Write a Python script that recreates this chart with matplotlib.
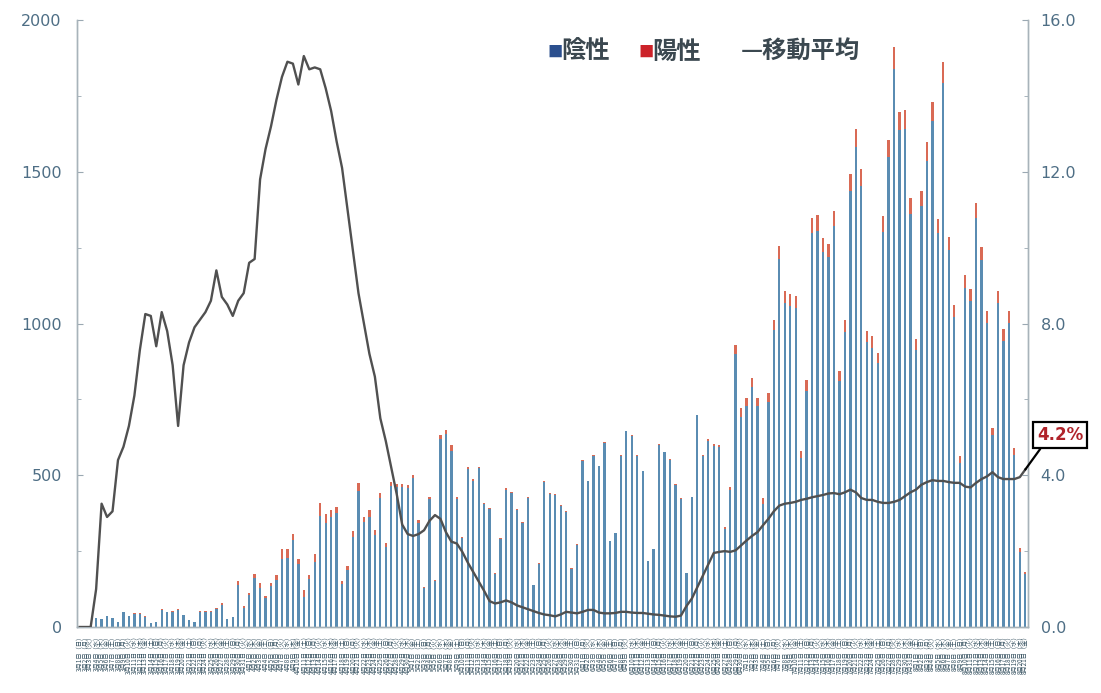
import numpy as np
import pandas as pd
import matplotlib
matplotlib.use("Agg")
import matplotlib.pyplot as plt
from matplotlib.ticker import MultipleLocator, FormatStrFormatter

plt.rcParams['font.family'] = ['DejaVu Sans', 'Noto Sans CJK JP']

# ---------------- data ----------------
dates = pd.date_range('2020-03-01', periods=174)
weekdays = ['月', '火', '水', '木', '金', '土', '日']
date_labels = [f"{d.month}月{d.day}日（{weekdays[d.weekday()]}）" for d in dates]

negative = [
    0, 0, 0,
    29, 27, 35, 29, 15, 48, 36, 43, 43, 34, 12, 17, 55, 48, 50, 55, 38, 22, 17, 51, 51, 51, 58, 73, 26, 32, 140, 63, 104, 163,
    128, 95, 134, 156, 225, 227, 286, 209, 98, 159, 215, 365, 342, 363, 374, 142, 187, 295, 449, 346, 364, 303, 425, 265, 464, 460, 460,
    458, 490, 344, 129, 421,
    152, 618, 637, 580, 421, 293, 522, 481, 523, 406, 389, 175, 291, 453, 440, 385, 344, 426, 137, 208, 478, 437, 436, 400, 380, 192, 271, 548, 480, 565, 529, 606,
    282, 310, 565, 645, 630, 565, 513, 216, 256, 601, 576, 550, 469, 422, 178, 427, 697, 564, 613, 597, 592, 324, 450, 899, 692, 728, 790, 728,
    405, 742, 977, 1212, 1068, 1058, 1052, 556, 779, 1297, 1304, 1236, 1218, 1321, 809, 972, 1436, 1581, 1454, 938, 920, 869, 1303, 1550, 1840,
    1636, 1641, 1362, 913, 1386, 1537, 1667, 1297, 1793, 1241, 1023, 542, 1118, 1074, 1346, 1208, 1001, 632, 1067, 943, 1001, 566, 248, 173,
]

positive = [
    0, 0, 0,
    1, 1, 2, 1, 1, 2, 1, 2, 2, 1, 0, 1, 3, 2, 3, 3, 2, 1, 1, 3, 3, 3, 4, 5, 2, 2, 10, 5, 8, 12,
    18, 8, 12, 14, 32, 30, 20, 15, 25, 12, 25, 45, 30, 22, 20, 10, 14, 20, 25, 18, 20, 15, 18, 12, 14, 12, 10,
    10, 10, 8, 4, 8,
    3, 14, 12, 20, 8, 5, 6, 5, 5, 4, 4, 2, 3, 4, 4, 3, 3, 3, 1, 2, 3, 3, 2, 2, 2, 1, 1, 2, 2, 2, 2, 2,
    1, 1, 2, 2, 2, 2, 2, 1, 1, 2, 2, 2, 2, 2, 1, 2, 3, 3, 5, 6, 8, 6, 12, 30, 28, 25, 30, 25,
    20, 30, 35, 45, 40, 38, 38, 25, 35, 50, 55, 45, 45, 50, 35, 40, 55, 60, 55, 38, 38, 35, 50, 55, 70,
    60, 62, 50, 35, 52, 60, 62, 48, 68, 45, 38, 22, 42, 40, 52, 45, 40, 25, 40, 38, 40, 25, 12, 8,
]

moving_avg = [
    0.0, 0.0, 0.0, 1.0, 3.25, 2.9, 3.05, 4.4, 4.75, 5.3,
    6.1, 7.3, 8.25, 8.2, 7.4, 8.3, 7.8, 6.9, 5.3, 6.9,
    7.5, 7.9, 8.1, 8.3, 8.6, 9.4, 8.7, 8.5, 8.2, 8.6,
    8.8, 9.6, 9.7, 11.8, 12.6, 13.2, 13.9, 14.5, 14.9, 14.85,
    14.3, 15.05, 14.7, 14.75, 14.7, 14.2, 13.6, 12.8, 12.1, 11.0,
    9.9, 8.8, 8.0, 7.2, 6.6, 5.5, 4.9, 4.2, 3.5, 2.7,
    2.45, 2.4, 2.45, 2.55, 2.8, 2.95, 2.85, 2.5, 2.25, 2.2,
    1.98, 1.7, 1.45, 1.2, 0.95, 0.68, 0.62, 0.65, 0.7, 0.65,
    0.57, 0.52, 0.47, 0.42, 0.37, 0.33, 0.31, 0.28, 0.33, 0.4,
    0.38, 0.36, 0.4, 0.45, 0.45, 0.38, 0.36, 0.36, 0.37, 0.4,
    0.4, 0.38, 0.37, 0.37, 0.35, 0.33, 0.32, 0.3, 0.28, 0.27,
    0.3, 0.55, 0.75, 1.05, 1.35, 1.65, 1.95, 1.98, 2.0, 1.98,
    2.02, 2.15, 2.28, 2.4, 2.5, 2.68, 2.85, 3.05, 3.2, 3.25,
    3.27, 3.3, 3.35, 3.38, 3.42, 3.45, 3.48, 3.52, 3.53, 3.5,
    3.55, 3.62, 3.55, 3.4, 3.35, 3.35, 3.3, 3.27, 3.27, 3.3,
    3.35, 3.45, 3.55, 3.62, 3.75, 3.82, 3.87, 3.85, 3.85, 3.82,
    3.8, 3.8, 3.7, 3.68, 3.8, 3.9, 3.97, 4.08, 3.95, 3.9,
    3.9, 3.9, 3.95, 4.15,
]

last_label = "4.2%"

# ---------------- figure ----------------
W, H = 1101, 693
fig = plt.figure(figsize=(W / 100, H / 100), dpi=100)
fig.patch.set_facecolor('white')
ax = fig.add_axes([77 / W, (H - 627) / H, (1028 - 77) / W, (627 - 20) / H])
ax2 = ax.twinx()

x = np.arange(len(negative))
neg_c = '#5a8cb2'
pos_c = '#d96a55'
ax.bar(x, negative, width=0.42, color=neg_c, linewidth=0, zorder=2)
ax.bar(x, positive, bottom=negative, width=0.42, color=pos_c, linewidth=0, zorder=2)

ax2.plot(x, moving_avg, color='#505050', lw=1.7, zorder=5)

ax.set_xlim(-0.5, len(negative) - 0.5)
ax.set_ylim(0, 2000)
ax2.set_ylim(0, 16)

tick_col = '#4e6e85'
ax.yaxis.set_major_locator(MultipleLocator(500))
ax.yaxis.set_minor_locator(MultipleLocator(250))
ax2.yaxis.set_major_locator(MultipleLocator(4))
ax2.yaxis.set_minor_locator(MultipleLocator(2))
ax2.yaxis.set_major_formatter(FormatStrFormatter('%.1f'))
ax.tick_params(axis='y', which='major', direction='in', length=4, color='#9aa8b2',
               labelsize=11.5, labelcolor=tick_col, pad=11)
ax2.tick_params(axis='y', which='major', direction='in', length=4, color='#9aa8b2',
                labelsize=11.5, labelcolor=tick_col, pad=9)
for a in (ax, ax2):
    a.tick_params(axis='y', which='minor', direction='in', length=3, color='#9aa8b2')
    a.spines['top'].set_visible(False)
    for s in ('left', 'right', 'bottom'):
        a.spines[s].set_color('#a8b3ba')
        a.spines[s].set_linewidth(1.0)

ax.set_xticks(x)
ax.set_xticklabels(date_labels, rotation=90, fontsize=4.5, color='#34505f',
                   family=['Noto Sans CJK JP', 'DejaVu Sans'])
ax.tick_params(axis='x', length=0, pad=4)

# legend (manual layout)
leg_font = ['Noto Sans CJK JP', 'DejaVu Sans']
txt_col = '#3b4850'
ly = 1 - 52 / H
fig.text(547 / W, ly, '■', color='#2b4f8e', fontsize=11, va='center', ha='left', family=leg_font)
fig.text(561 / W, ly, '陰性', color=txt_col, fontsize=17.5, va='center', ha='left',
         family=leg_font, weight='bold')
fig.text(638 / W, ly, '■', color='#cc2229', fontsize=11, va='center', ha='left', family=leg_font)
fig.text(652 / W, ly, '陽性', color=txt_col, fontsize=17.5, va='center', ha='left',
         family=leg_font, weight='bold')
fig.text(741 / W, ly, '—移動平均', color=txt_col, fontsize=17.5, va='center', ha='left',
         family=leg_font, weight='bold')

# callout
ax2.annotate(last_label, xy=(x[-1], moving_avg[-1]), xytext=(1060, H - 435),
             textcoords='figure pixels', ha='center', va='center',
             fontsize=12, color='#b0232a', weight='bold',
             bbox=dict(boxstyle='square,pad=0.25', fc='white', ec='black', lw=1.6),
             arrowprops=dict(arrowstyle='-', color='black', lw=1.6,
                             shrinkA=0, shrinkB=0, relpos=(0.15, 0.0)),
             annotation_clip=False, zorder=10)

fig.savefig('out.png', dpi=100)
